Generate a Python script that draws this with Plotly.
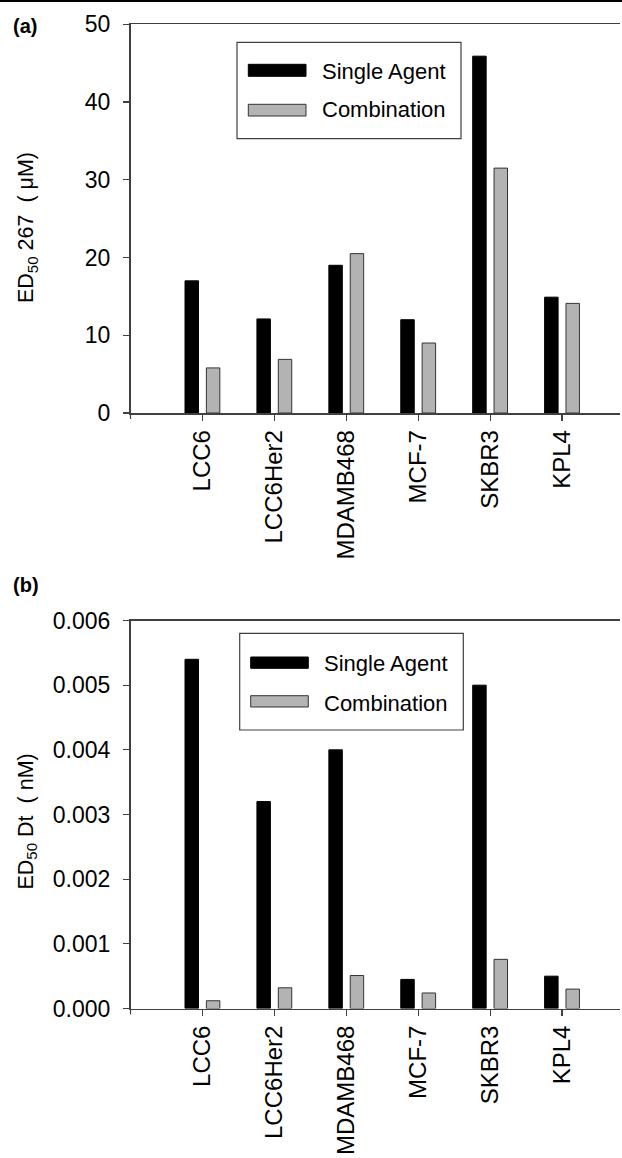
import plotly.graph_objects as go

W, H = 622, 1158

# ---------------- data ----------------
cell_lines = ["LCC6", "LCC6Her2", "MDAMB468", "MCF-7", "SKBR3", "KPL4"]
series_names = ["Single Agent", "Combination"]

ed50_267_single = [17.0, 12.1, 19.0, 12.0, 45.9, 14.9]
ed50_267_combo = [5.8, 6.9, 20.5, 9.0, 31.5, 14.1]

ed50_dt_single = [0.0054, 0.0032, 0.0040, 0.00045, 0.0050, 0.0005]
ed50_dt_combo = [0.00012, 0.00032, 0.00051, 0.00024, 0.00076, 0.0003]

yticks_a = [0, 10, 20, 30, 40, 50]
yticks_b = [0.000, 0.001, 0.002, 0.003, 0.004, 0.005, 0.006]

# ---------------- style ----------------
FONT = "Liberation Sans, Arial, Helvetica, sans-serif"
BLACK = "#000000"
GRAY = "#b3b3b3"
AXIS = "#404040"


def px(x):
    return x / W


def py(y):
    return 1 - y / H


fig = go.Figure()

panels = [
    ("x", "y", ed50_267_single, ed50_267_combo),
    ("x2", "y2", ed50_dt_single, ed50_dt_combo),
]
for xa, ya, s_vals, c_vals in panels:
    fig.add_trace(go.Bar(x=cell_lines, y=s_vals, name=series_names[0],
                         marker=dict(color=BLACK, line=dict(color=BLACK, width=1)),
                         xaxis=xa, yaxis=ya, showlegend=False))
    fig.add_trace(go.Bar(x=cell_lines, y=c_vals, name=series_names[1],
                         marker=dict(color=GRAY, line=dict(color="#333333", width=1)),
                         xaxis=xa, yaxis=ya, showlegend=False))

xrange = [-1.0, 5.806]
xcommon = dict(type="category", categoryorder="array", categoryarray=cell_lines,
               range=xrange, showline=True, linecolor=AXIS, linewidth=1.5,
               mirror=True, ticks="outside", ticklen=6, tickcolor=AXIS,
               tickwidth=1.2, tickangle=-90, showgrid=False, zeroline=False,
               tickfont=dict(family=FONT, size=24, color="#000"), automargin=False,
               fixedrange=True)
ycommon = dict(showline=True, linecolor=AXIS, linewidth=1.5, ticks="outside",
               ticklen=6, tickcolor=AXIS, tickwidth=1.2, showgrid=False,
               zeroline=False, tickfont=dict(family=FONT, size=23, color="#000"),
               ticklabelstandoff=8, automargin=False, fixedrange=True)

fig.update_layout(
    width=W, height=H,
    margin=dict(l=0, r=0, t=0, b=0),
    paper_bgcolor="white", plot_bgcolor="white",
    barmode="group", bargap=0.406, bargroupgap=0.37,
    showlegend=False,
    xaxis=dict(domain=[px(130.5), px(620)], anchor="y", **xcommon),
    yaxis=dict(domain=[py(413), py(24.3)], anchor="x", range=[0, 50],
               tickvals=yticks_a, ticktext=[str(v) for v in yticks_a], **ycommon),
    xaxis2=dict(domain=[px(130.5), px(620)], anchor="y2", **xcommon),
    yaxis2=dict(domain=[py(1008.5), py(620.5)], anchor="x2", range=[0, 0.006],
                tickvals=yticks_b, ticktext=[f"{v:.3f}" for v in yticks_b], **ycommon),
)

shapes = []
annotations = []

# page rule at top
shapes.append(dict(type="line", xref="paper", yref="paper", x0=0, x1=1,
                   y0=py(1), y1=py(1), line=dict(color="#000", width=2)))

# small downward continuation of the y axis below zero
for yb in (413, 1008.5):
    shapes.append(dict(type="line", xref="paper", yref="paper",
                       x0=px(130.5), x1=px(130.5), y0=py(yb), y1=py(yb + 6),
                       line=dict(color=AXIS, width=1.2)))

# hand-drawn legends (wide swatches as in the original)
legends = [
    dict(box=(237, 42.3, 461, 138.7), sx=(248.3, 306), rows=[(64.3, 76.3, 71.7), (104.3, 116, 110)], tx=320),
    dict(box=(239.7, 633.3, 463.3, 730), sx=(250.7, 308.3), rows=[(657, 668.3, 663), (695.7, 707, 703)], tx=321.7),
]
swatch_style = [(BLACK, BLACK), (GRAY, "#333333")]
for lg in legends:
    x0, y0, x1, y1 = lg["box"]
    shapes.append(dict(type="rect", xref="paper", yref="paper",
                       x0=px(x0), x1=px(x1), y0=py(y1), y1=py(y0),
                       line=dict(color=AXIS, width=1.2), fillcolor="white", layer="above"))
    for (r0, r1, rc), name, (fc, lc) in zip(lg["rows"], series_names, swatch_style):
        shapes.append(dict(type="rect", xref="paper", yref="paper",
                           x0=px(lg["sx"][0]), x1=px(lg["sx"][1]), y0=py(r1), y1=py(r0),
                           line=dict(color=lc, width=1), fillcolor=fc, layer="above"))
        annotations.append(dict(xref="paper", yref="paper", x=px(lg["tx"]), y=py(rc),
                                xanchor="left", yanchor="middle", showarrow=False,
                                text=name, font=dict(family=FONT, size=22, color="#000")))

# panel labels
for lab, yc in [("(a)", 26), ("(b)", 585)]:
    annotations.append(dict(xref="paper", yref="paper", x=px(11), y=py(yc),
                            xanchor="left", yanchor="middle", showarrow=False,
                            text=f"<b>{lab}</b>", font=dict(family=FONT, size=20, color="#000")))

# y-axis titles
for txt, yc in [("ED<sub>50</sub> 267  ( μM)", 228), ("ED<sub>50</sub> Dt  ( nM)", 821.5)]:
    annotations.append(dict(xref="paper", yref="paper", x=px(27), y=py(yc),
                            xanchor="center", yanchor="middle", showarrow=False,
                            textangle=-90, text=txt,
                            font=dict(family=FONT, size=21.5, color="#000")))

fig.update_layout(shapes=shapes, annotations=annotations)

fig.write_html("out.html",
               config={"displayModeBar": False, "staticPlot": True},
               post_script="document.body.style.margin='0';document.body.style.overflow='hidden';")
